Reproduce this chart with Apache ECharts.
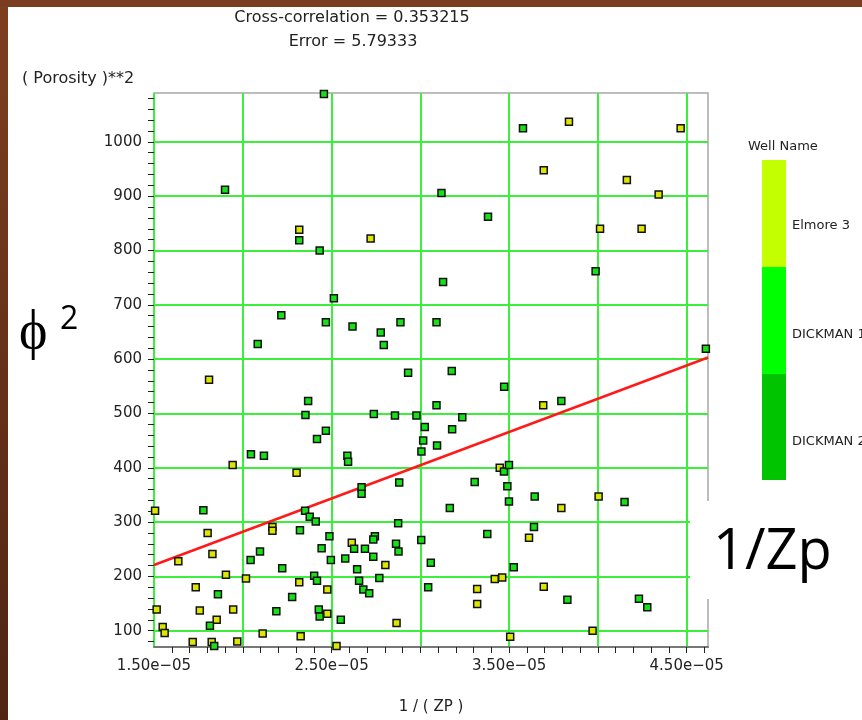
<!DOCTYPE html>
<html><head><meta charset="utf-8">
<script src="https://cdn.jsdelivr.net/npm/echarts@6/dist/echarts.min.js"></script>
<style>html,body{margin:0;padding:0;background:#fff}#c{width:862px;height:720px}</style>
</head><body><div id="c"></div>
<script>
// ---- data ----
const titleLines = ['Cross-correlation = 0.353215', 'Error = 5.79333'];
const yAxisTitle = '( Porosity )**2';
const xAxisTitle = '1 / ( ZP )';
const legendTitle = 'Well Name';
const wellNames = ['Elmore 3', 'DICKMAN 1', 'DICKMAN 2'];
const wellColors = ['#c4ff00', '#00ff00', '#00c400'];

const xRange = [1.5e-5, 4.62e-5];
const yRange = [70, 1090];
const xLabelValues = [1.5e-5, 2.5e-5, 3.5e-5, 4.5e-5];
const xLabelTexts = ['1.50e\u221205', '2.50e\u221205', '3.50e\u221205', '4.50e\u221205'];
const xGridValues = [1.5e-5, 2.0e-5, 2.5e-5, 3.0e-5, 3.5e-5, 4.0e-5, 4.5e-5];
const yLabelValues = [100, 200, 300, 400, 500, 600, 700, 800, 900, 1000];

// Elmore (yellow) points [1/Zp, porosity^2]
const elmore = [
 [1.506e-5,321],[1.515e-5,139],[1.549e-5,107],[1.560e-5,96],[1.637e-5,228],[1.718e-5,79],
 [1.735e-5,180],[1.758e-5,137],[1.802e-5,280],[1.810e-5,562],[1.825e-5,79],[1.829e-5,241],
 [1.853e-5,120],[1.905e-5,203],[1.943e-5,405],[1.946e-5,139],[1.969e-5,80],[2.018e-5,196],
 [2.112e-5,95],[2.167e-5,291],[2.167e-5,284],[2.303e-5,391],[2.318e-5,838],[2.326e-5,90],
 [2.318e-5,189],[2.476e-5,176],[2.476e-5,131],[2.528e-5,72],[2.614e-5,262],[2.720e-5,822],
 [2.803e-5,221],[2.866e-5,114],[3.320e-5,177],[3.320e-5,149],[3.419e-5,195],[3.461e-5,198],
 [3.447e-5,400],[3.506e-5,89],[3.612e-5,271],[3.692e-5,515],[3.695e-5,181],[3.794e-5,326],
 [3.837e-5,1037],[3.695e-5,948],[3.970e-5,100],[4.004e-5,347],[4.012e-5,840],[4.163e-5,930],
 [4.246e-5,840],[4.342e-5,903],[4.466e-5,1025]
];
// DICKMAN (green) points
const dickman = [
 [1.778e-5,322],[1.815e-5,109],[1.839e-5,72],[1.860e-5,167],[1.900e-5,912],[2.044e-5,230],
 [2.046e-5,425],[2.084e-5,628],[2.097e-5,246],[2.119e-5,422],[2.189e-5,136],[2.217e-5,681],
 [2.222e-5,215],[2.278e-5,162],[2.318e-5,819],[2.322e-5,285],[2.351e-5,321],[2.353e-5,497],
 [2.368e-5,523],[2.377e-5,310],[2.402e-5,201],[2.411e-5,301],[2.418e-5,192],[2.418e-5,453],
 [2.428e-5,139],[2.433e-5,126],[2.433e-5,800],[2.444e-5,252],[2.457e-5,1088],[2.468e-5,668],
 [2.468e-5,468],[2.488e-5,274],[2.496e-5,230],[2.513e-5,712],[2.552e-5,120],[2.577e-5,233],
 [2.589e-5,422],[2.593e-5,411],[2.618e-5,660],[2.627e-5,251],[2.644e-5,213],[2.655e-5,192],
 [2.669e-5,364],[2.669e-5,352],[2.679e-5,176],[2.688e-5,251],[2.712e-5,169],[2.735e-5,236],
 [2.738e-5,499],[2.744e-5,274],[2.735e-5,268],[2.769e-5,197],[2.777e-5,649],[2.794e-5,626],
 [2.857e-5,496],[2.863e-5,260],[2.877e-5,246],[2.875e-5,298],[2.881e-5,373],[2.888e-5,668],
 [2.931e-5,575],[2.978e-5,496],[3.006e-5,430],[3.005e-5,267],[3.016e-5,450],[3.025e-5,475],
 [3.044e-5,180],[3.059e-5,225],[3.091e-5,668],[3.091e-5,515],[3.094e-5,441],[3.119e-5,906],
 [3.128e-5,742],[3.166e-5,326],[3.177e-5,578],[3.179e-5,471],[3.236e-5,493],[3.306e-5,374],
 [3.377e-5,278],[3.381e-5,862],[3.472e-5,549],[3.471e-5,393],[3.490e-5,366],[3.499e-5,405],
 [3.499e-5,338],[3.526e-5,217],[3.578e-5,1025],[3.640e-5,291],[3.644e-5,347],[3.794e-5,523],
 [3.828e-5,157],[3.987e-5,762],[4.150e-5,337],[4.231e-5,159],[4.278e-5,143],[4.608e-5,619]
];
// regression line end points
const fitLine = [[1.5e-5, 221], [4.62e-5, 603]];

// ---- chart ----
const FONT = 'DejaVu Sans';
const GRID_GREEN = '#3def3d';
const yTickValues = []; for (let v = 80; v <= 1080; v += 20) yTickValues.push(v);
const xTickValues = []; for (let i = 15; i <= 46; i++) xTickValues.push(i * 1e-6);

const chart = echarts.init(document.getElementById('c'), null, {renderer: 'canvas'});
const labelFor = v => {
  let best = 0;
  xLabelValues.forEach((x, i) => { if (Math.abs(x - v) < Math.abs(xLabelValues[best] - v)) best = i; });
  return xLabelTexts[best];
};
const woodGrad = new echarts.graphic.LinearGradient(0, 0, 0, 1, [
  {offset: 0, color: '#7e3f20'}, {offset: 1, color: '#4f2514'}]);
const txt = (text, x, y, size, align, family, z) => ({
  type: 'text', z: z || 100,
  style: {text: text, x: x, y: y, fontFamily: family || FONT, fontSize: size, fill: family ? '#000' : '#222',
    align: align, verticalAlign: 'middle', textAlign: align, textVerticalAlign: 'middle'}
});

chart.setOption({
  animation: false,
  backgroundColor: '#ffffff',
  grid: {left: 154, right: 154, top: 93, bottom: 73, show: true, borderColor: '#a8a8a8', borderWidth: 1.5, backgroundColor: '#fff'},
  xAxis: [{
    type: 'value', min: xRange[0], max: xRange[1], position: 'bottom',
    axisLine: {show: true, lineStyle: {color: '#777', width: 2}},
    axisTick: {show: true, length: 6, customValues: xTickValues, lineStyle: {color: '#222', width: 1}},
    axisLabel: {show: true, customValues: xLabelValues, formatter: v => labelFor(v), margin: 12,
      fontFamily: FONT, fontSize: 15, color: '#222'},
    splitLine: {show: false}
  }, {
    type: 'value', min: xRange[0], max: xRange[1], position: 'bottom',
    axisLine: {show: false}, axisLabel: {show: false},
    axisTick: {show: false, customValues: xGridValues},
    splitLine: {show: true, lineStyle: {color: GRID_GREEN, width: 2}}
  }],
  yAxis: [{
    type: 'value', min: yRange[0], max: yRange[1],
    axisLine: {show: false},
    axisTick: {show: true, length: 6, customValues: yTickValues, lineStyle: {color: '#222', width: 1}},
    axisLabel: {show: true, customValues: yLabelValues, formatter: v => String(v), margin: 12,
      fontFamily: FONT, fontSize: 15, color: '#222'},
    splitLine: {show: false}
  }, {
    type: 'value', min: yRange[0], max: yRange[1],
    axisLine: {show: false}, axisLabel: {show: false},
    axisTick: {show: false, customValues: yLabelValues},
    splitLine: {show: true, lineStyle: {color: GRID_GREEN, width: 2}}
  }],
  series: [{
    type: 'line', xAxisIndex: 0, yAxisIndex: 0, data: fitLine, symbol: 'none', z: 3,
    lineStyle: {color: '#ff1a1a', width: 2.5}
  }, {
    name: wellNames[0], type: 'scatter', xAxisIndex: 0, yAxisIndex: 0, data: elmore, z: 5,
    symbol: 'rect', symbolSize: 7,
    itemStyle: {color: '#dce600', borderColor: '#111', borderWidth: 1.5, opacity: 1}
  }, {
    name: wellNames[1], type: 'scatter', xAxisIndex: 0, yAxisIndex: 0, data: dickman, z: 5,
    symbol: 'rect', symbolSize: 7,
    itemStyle: {color: '#16e016', borderColor: '#111', borderWidth: 1.5, opacity: 1}
  }],
  graphic: [
    {type: 'rect', z: 200, shape: {x: 0, y: 0, width: 8, height: 720}, style: {fill: woodGrad}},
    {type: 'rect', z: 200, shape: {x: 0, y: 0, width: 862, height: 7}, style: {fill: '#7b3d1f'}},
    txt(titleLines[0], 352, 18, 16, 'center'),
    txt(titleLines[1], 353, 42, 16, 'center'),
    txt(yAxisTitle, 22, 79, 16, 'left'),
    txt(xAxisTitle, 431, 707, 15, 'center'),
    txt(legendTitle, 748, 147, 13, 'left'),
    {type: 'rect', z: 100, shape: {x: 762, y: 160, width: 24, height: 107}, style: {fill: wellColors[0]}},
    {type: 'rect', z: 100, shape: {x: 762, y: 267, width: 24, height: 107}, style: {fill: wellColors[1]}},
    {type: 'rect', z: 100, shape: {x: 762, y: 374, width: 24, height: 106}, style: {fill: wellColors[2]}},
    txt(wellNames[0], 792, 226, 13, 'left'),
    txt(wellNames[1], 792, 335, 13, 'left'),
    txt(wellNames[2], 792, 442, 13, 'left'),
    {type: 'rect', z: 150, shape: {x: 690, y: 501, width: 172, height: 98}, style: {fill: '#fff'}},
    txt('1/Zp', 713, 553, 56, 'left', 'Open Sans', 160),
    txt('\u03d5', 19, 333, 54, 'left', 'Open Sans', 160),
    txt('2', 60, 320, 32, 'left', 'Open Sans', 160)
  ]
});
</script></body></html>
